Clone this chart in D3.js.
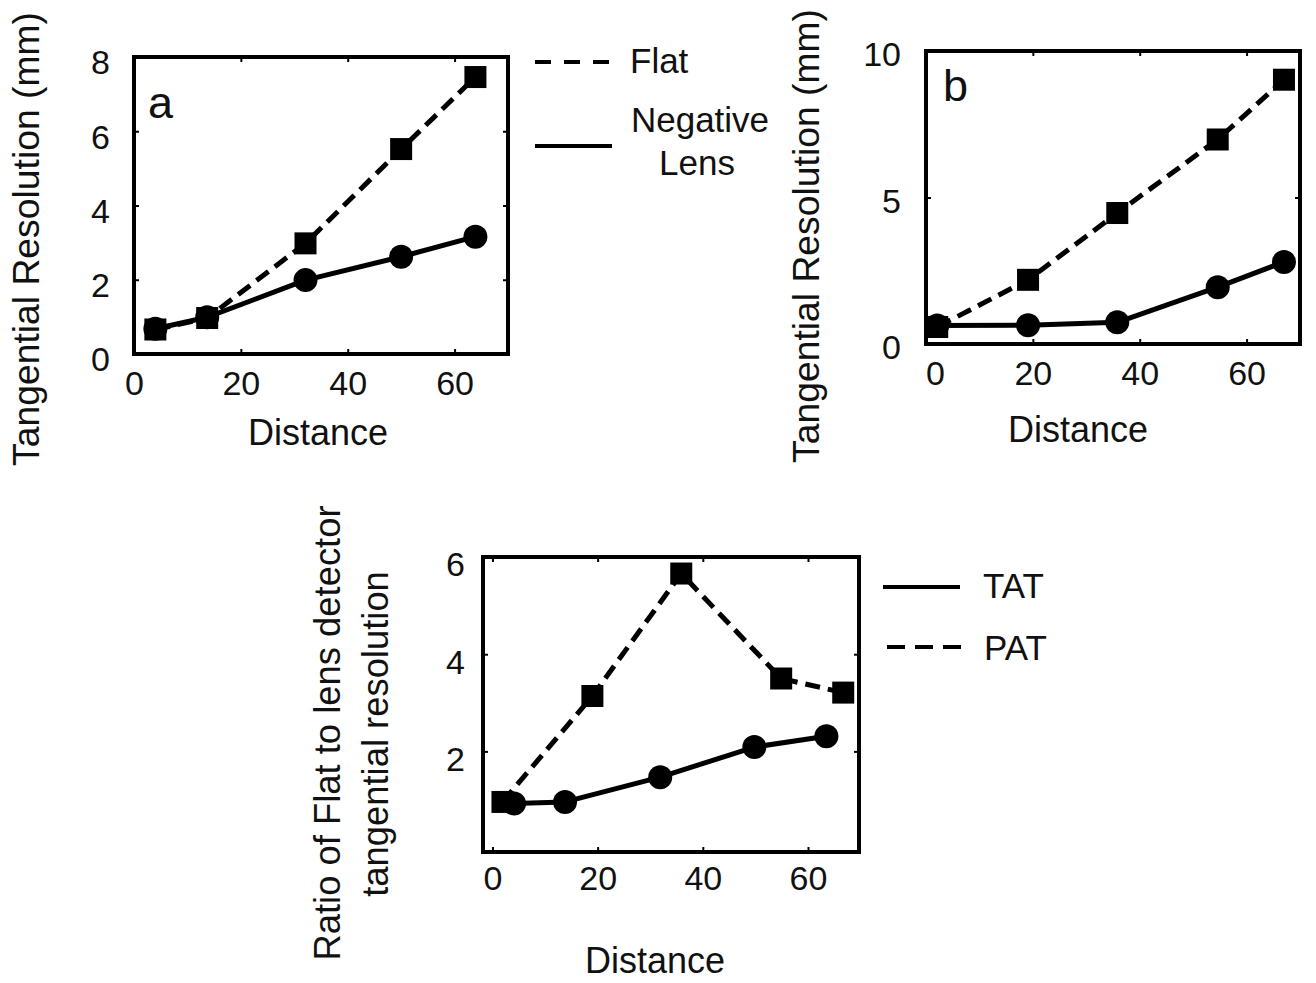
<!DOCTYPE html>
<html>
<head>
<meta charset="utf-8">
<script src="https://cdn.jsdelivr.net/npm/d3@7"></script>
<style>
  html, body { margin: 0; padding: 0; background: #fff; }
  svg { display: block; font-family: "Liberation Sans", Arial, Helvetica, sans-serif; }
</style>
</head>
<body>
<svg id="chart" width="1316" height="983"></svg>
<script>
// ---------------- DATA ----------------
const xTickValues = [0, 20, 40, 60];

// Panel a
const aDistance = [4.0, 13.7, 32.1, 50.0, 63.9];
const aFlat     = [0.66, 0.97, 2.98, 5.52, 7.46];
const aLens     = [0.68, 0.99, 1.99, 2.62, 3.16];
const aYTicks   = [0, 2, 4, 6, 8];

// Panel b
const bDistance = [2.1, 19.1, 35.8, 54.6, 67.0];
const bFlat     = [0.58, 2.19, 4.47, 6.98, 9.02];
const bLens     = [0.63, 0.64, 0.74, 1.94, 2.80];
const bYTicks   = [0, 5, 10];

// Panel c
const cTATDistance = [4.1, 13.8, 31.9, 49.8, 63.5];
const cTAT         = [0.93, 0.96, 1.47, 2.09, 2.31];
const cPATDistance = [1.9, 19.0, 35.9, 54.9, 66.7];
const cPAT         = [0.96, 3.14, 5.66, 3.50, 3.21];
const cYTicks      = [2, 4, 6];

const legendA = ["Flat", "Negative", "Lens"];
const legendC = ["TAT", "PAT"];

// ---------------- DRAW ----------------
const svg = d3.select("#chart");
svg.append("rect").attr("width", 1316).attr("height", 983).attr("fill", "#fff");

const TICK_FONT = 34, LABEL_FONT = 36, LEG_FONT = 35;
const DASH = "15,8";
const SQ = 22, CR = 12;

function panel(cfg) {
  const g = svg.append("g");
  const x = d3.scaleLinear().domain(cfg.xDomain).range([cfg.left, cfg.right]);
  const y = d3.scaleLinear().domain(cfg.yDomain).range([cfg.bottom, cfg.top]);

  // bottom axis (inward ticks + labels)
  const gb = g.append("g").attr("transform", `translate(0,${cfg.bottom})`)
    .call(d3.axisBottom(x).tickValues(xTickValues).tickSizeInner(-5).tickSizeOuter(0)
      .tickPadding(cfg.xPad).tickFormat(d3.format("d")));
  gb.select(".domain").remove();
  gb.selectAll("line").attr("stroke", "#000").attr("stroke-width", 2);
  gb.selectAll("text").attr("font-size", TICK_FONT).attr("fill", "#111")
    .attr("font-family", "Liberation Sans, Arial, sans-serif")
    .attr("dx", d => (d === 0 ? cfg.zeroDx : 0));

  // top axis (ticks only)
  const gt = g.append("g").attr("transform", `translate(0,${cfg.top})`)
    .call(d3.axisTop(x).tickValues(xTickValues).tickSizeInner(-5).tickSizeOuter(0).tickFormat(""));
  gt.select(".domain").remove();
  gt.selectAll("line").attr("stroke", "#000").attr("stroke-width", 2);

  // left axis
  const gl = g.append("g").attr("transform", `translate(${cfg.left},0)`)
    .call(d3.axisLeft(y).tickValues(cfg.yTicks).tickSizeInner(-5).tickSizeOuter(0)
      .tickPadding(cfg.yPad).tickFormat(d3.format("d")));
  gl.select(".domain").remove();
  gl.selectAll("line").attr("stroke", "#000").attr("stroke-width", 2);
  gl.selectAll("text").attr("font-size", TICK_FONT).attr("fill", "#111")
    .attr("font-family", "Liberation Sans, Arial, sans-serif")
    .attr("y", cfg.yLabelShift);

  // right axis (ticks only)
  const gr = g.append("g").attr("transform", `translate(${cfg.right},0)`)
    .call(d3.axisRight(y).tickValues(cfg.yTicks).tickSizeInner(-5).tickSizeOuter(0).tickFormat(""));
  gr.select(".domain").remove();
  gr.selectAll("line").attr("stroke", "#000").attr("stroke-width", 2);

  // box
  g.append("rect")
    .attr("x", cfg.left).attr("y", cfg.top)
    .attr("width", cfg.right - cfg.left).attr("height", cfg.bottom - cfg.top)
    .attr("fill", "none").attr("stroke", "#000").attr("stroke-width", 4);

  // series
  cfg.series.forEach(s => {
    const pts = s.xs.map((d, i) => [d, s.ys[i]]);
    const line = d3.line().x(d => x(d[0])).y(d => y(d[1]));
    g.append("path").datum(pts).attr("d", line)
      .attr("fill", "none").attr("stroke", "#000").attr("stroke-width", 5)
      .attr("stroke-dasharray", s.dashed ? DASH : null)
      .attr("stroke-linejoin", "round");
  });
  cfg.series.forEach(s => {
    const pts = s.xs.map((d, i) => [d, s.ys[i]]);
    if (s.marker === "circle") {
      g.selectAll(null).data(pts).enter().append("circle")
        .attr("cx", d => x(d[0])).attr("cy", d => y(d[1])).attr("r", CR).attr("fill", "#000");
    } else {
      g.selectAll(null).data(pts).enter().append("rect")
        .attr("x", d => x(d[0]) - SQ / 2).attr("y", d => y(d[1]) - SQ / 2)
        .attr("width", SQ).attr("height", SQ).attr("fill", "#000");
    }
  });

  // x label
  g.append("text").attr("x", cfg.xLabel[0]).attr("y", cfg.xLabel[1])
    .attr("text-anchor", "middle").attr("font-size", LABEL_FONT).attr("fill", "#111")
    .text("Distance");

  // y label(s)
  cfg.yLabels.forEach(l => {
    g.append("text")
      .attr("transform", `translate(${l.x},${l.y}) rotate(-90)`)
      .attr("text-anchor", "middle").attr("font-size", l.size || LABEL_FONT).attr("fill", "#111")
      .text(l.text);
  });

  if (cfg.letter) {
    g.append("text").attr("x", cfg.letter.x).attr("y", cfg.letter.y)
      .attr("font-size", 45).attr("fill", "#111").text(cfg.letter.text);
  }
  return { x, y };
}

panel({
  left: 134, right: 508, top: 57, bottom: 354,
  xDomain: [0, 70], yDomain: [0, 8], yTicks: aYTicks,
  xPad: 17, yPad: 24, yLabelShift: 6, zeroDx: 0,
  series: [
    { xs: aDistance, ys: aLens, dashed: false, marker: "circle" },
    { xs: aDistance, ys: aFlat, dashed: true, marker: "square" }
  ],
  xLabel: [318, 445],
  yLabels: [{ x: 39, y: 239, text: "Tangential Resolution (mm)", size: 37.3 }],
  letter: { x: 148, y: 118, text: "a" }
});

panel({
  left: 926, right: 1300, top: 51, bottom: 344,
  xDomain: [0, 70], yDomain: [0, 10], yTicks: bYTicks,
  xPad: 17, yPad: 25, yLabelShift: 4, zeroDx: 9,
  series: [
    { xs: bDistance, ys: bLens, dashed: false, marker: "circle" },
    { xs: bDistance, ys: bFlat, dashed: true, marker: "square" }
  ],
  xLabel: [1078, 442],
  yLabels: [{ x: 819, y: 236, text: "Tangential Resolution (mm)", size: 37.3 }],
  letter: { x: 943, y: 101, text: "b" }
});

panel({
  left: 483, right: 859, top: 557, bottom: 852,
  xDomain: [-1.8, 69.7], yDomain: [-0.07, 6], yTicks: cYTicks,
  xPad: 14, yPad: 18, yLabelShift: 8, zeroDx: 0,
  series: [
    { xs: cTATDistance, ys: cTAT, dashed: false, marker: "circle" },
    { xs: cPATDistance, ys: cPAT, dashed: true, marker: "square" }
  ],
  xLabel: [655, 973],
  yLabels: [
    { x: 340, y: 733, text: "Ratio of Flat to lens detector", size: 36.4 },
    { x: 388, y: 734, text: "tangential resolution", size: 36.4 }
  ]
});

// ---------------- LEGENDS ----------------
const lg = svg.append("g").attr("fill", "#111").attr("font-size", LEG_FONT);
// Panel a legend
lg.append("line").attr("x1", 535).attr("x2", 611).attr("y1", 62).attr("y2", 62)
  .attr("stroke", "#000").attr("stroke-width", 4).attr("stroke-dasharray", "16,13");
lg.append("text").attr("x", 630).attr("y", 73).text(legendA[0]);
lg.append("line").attr("x1", 535).attr("x2", 612).attr("y1", 146).attr("y2", 146)
  .attr("stroke", "#000").attr("stroke-width", 4);
lg.append("text").attr("x", 700).attr("y", 132).attr("text-anchor", "middle").text(legendA[1]);
lg.append("text").attr("x", 697).attr("y", 175).attr("text-anchor", "middle").text(legendA[2]);

// Panel c legend
lg.append("line").attr("x1", 883).attr("x2", 960).attr("y1", 587).attr("y2", 587)
  .attr("stroke", "#000").attr("stroke-width", 4);
lg.append("text").attr("x", 983).attr("y", 598).text(legendC[0]);
lg.append("line").attr("x1", 887).attr("x2", 961).attr("y1", 647).attr("y2", 647)
  .attr("stroke", "#000").attr("stroke-width", 4).attr("stroke-dasharray", "18,10");
lg.append("text").attr("x", 984).attr("y", 660).text(legendC[1]);
</script>
</body>
</html>
